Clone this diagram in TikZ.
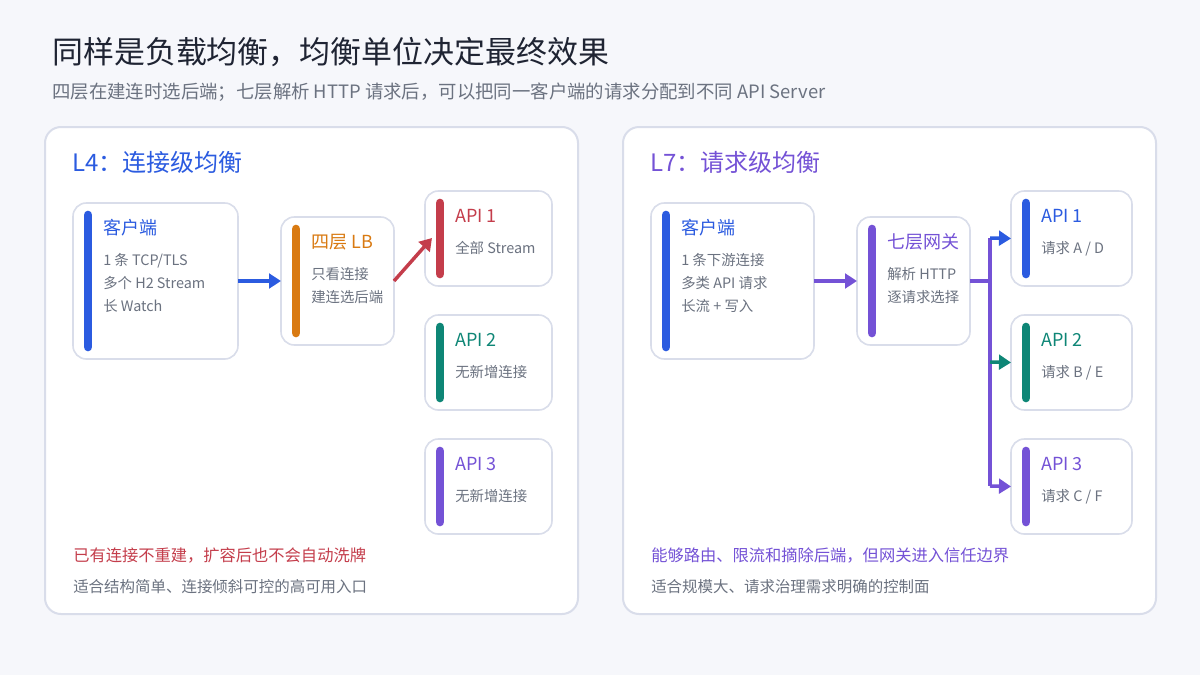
\documentclass[tikz,border=0pt]{standalone}
\usepackage{fontspec}
\setmainfont{Noto Sans CJK SC}
\usetikzlibrary{positioning,arrows.meta}
\definecolor{bg}{HTML}{F6F7FB}
\definecolor{rim}{HTML}{D9DDEA}
\definecolor{ink}{HTML}{1F2433}
\definecolor{mute}{HTML}{6B7280}
\definecolor{cblue}{HTML}{2B5BE0}
\definecolor{corange}{HTML}{D97A12}
\definecolor{cred}{HTML}{C43D4B}
\definecolor{cteal}{HTML}{0E8676}
\definecolor{cpurple}{HTML}{7452D6}
\tikzset{
  panel/.style={draw=rim,fill=white,line width=1.5pt,rounded corners=12pt},
  card/.style={draw=rim,fill=white,line width=1.2pt,rounded corners=10pt},
  bar/.style={line width=6.5pt,line cap=round},
  head/.style={anchor=west,inner sep=0pt,font=\fontsize{13.5}{16}\selectfont},
  body/.style={anchor=north west,inner sep=0pt,align=left,text=mute,font=\fontsize{10.8}{17.3}\selectfont},
  link/.style={line width=2.6pt,-{Triangle[length=9pt,width=11pt]}},
}
\newcommand{\card}[8]{% name, x1,y1,x2,y2, colour, title, body
  \draw[card] (#2,#3) rectangle (#4,#5);
  \draw[bar,#6] (#2+15,#3+12) -- (#2+15,#5-12);
  \node[head,text=#6] (#1) at (#2+30,#3+25) {#7};
  \node[body] (#1b) at (#2+30,#3+50) {#8};
  \coordinate (#1w) at (#2,{(#3+#5)/2});
  \coordinate (#1e) at (#4,{(#3+#5)/2});
}
\begin{document}
\begin{tikzpicture}[x=0.75pt,y=-0.75pt]
  \fill[bg] (0,0) rectangle (1200,675);
  \useasboundingbox (0,0) rectangle (1200,675);

  \node[anchor=west,inner sep=0pt,text=ink,font=\fontsize{23.2}{26}\selectfont] (title) at (52,52) {同样是负载均衡，均衡单位决定最终效果};
  \node[anchor=west,inner sep=0pt,text=mute,font=\fontsize{13.8}{16}\selectfont] (sub) at (52,92) {四层在建连时选后端；七层解析 HTTP 请求后，可以把同一客户端的请求分配到不同 API Server};

  % left panel
  \draw[panel] (45,127) rectangle (578,614);
  \node[anchor=west,inner sep=0pt,text=cblue,font=\fontsize{18}{20}\selectfont] (l4) at (72,162) {L4：连接级均衡};
  \card{lc}{73}{203}{238}{359}{cblue}{客户端}{1 条 TCP/TLS\\多个 H2 Stream\\长 Watch}
  \card{lb}{281}{217}{394}{345}{corange}{四层 LB}{只看连接\\建连选后端}
  \card{la}{425}{191}{552}{286}{cred}{API 1}{全部 Stream}
  \card{lbb}{425}{315}{552}{410}{cteal}{API 2}{无新增连接}
  \card{lcc}{425}{439}{552}{534}{cpurple}{API 3}{无新增连接}
  \draw[link,cblue] (lce) -- (lbw);
  \draw[link,cred] (lbe) -- (432,238);
  \node[anchor=west,inner sep=0pt,text=cred,font=\fontsize{12.2}{14}\selectfont] (lnote) at (73,555) {已有连接不重建，扩容后也不会自动洗牌};
  \node[anchor=west,inner sep=0pt,text=mute,font=\fontsize{11.6}{13}\selectfont] (lfit) at (73,587) {适合结构简单、连接倾斜可控的高可用入口};

  % right panel
  \draw[panel] (623,127) rectangle (1156,614);
  \node[anchor=west,inner sep=0pt,text=cpurple,font=\fontsize{18}{20}\selectfont] (l7) at (650,162) {L7：请求级均衡};
  \card{rc}{651}{203}{814}{359}{cblue}{客户端}{1 条下游连接\\多类 API 请求\\长流 + 写入}
  \card{gw}{857}{217}{970}{345}{cpurple}{七层网关}{解析 HTTP\\逐请求选择}
  \card{ra}{1011}{191}{1132}{286}{cblue}{API 1}{请求 A / D}
  \card{rb}{1011}{315}{1132}{410}{cteal}{API 2}{请求 B / E}
  \card{rcc}{1011}{439}{1132}{534}{cpurple}{API 3}{请求 C / F}
  \draw[link,cpurple] (rce) -- (gww);
  \coordinate (fork) at (990,281);
  \draw[cpurple,line width=2.6pt,line join=round] (gwe) -- (fork) (990,238) -- (990,486);
  \draw[link,cblue] (990,238) -- (raw);
  \draw[link,cteal] (990,362) -- (rbw);
  \draw[link,cpurple] (990,486) -- (rccw);
  \node[anchor=west,inner sep=0pt,text=cpurple,font=\fontsize{12.2}{14}\selectfont] (rnote) at (651,555) {能够路由、限流和摘除后端，但网关进入信任边界};
  \node[anchor=west,inner sep=0pt,text=mute,font=\fontsize{11.6}{13}\selectfont] (rfit) at (651,587) {适合规模大、请求治理需求明确的控制面};
\end{tikzpicture}
\end{document}
